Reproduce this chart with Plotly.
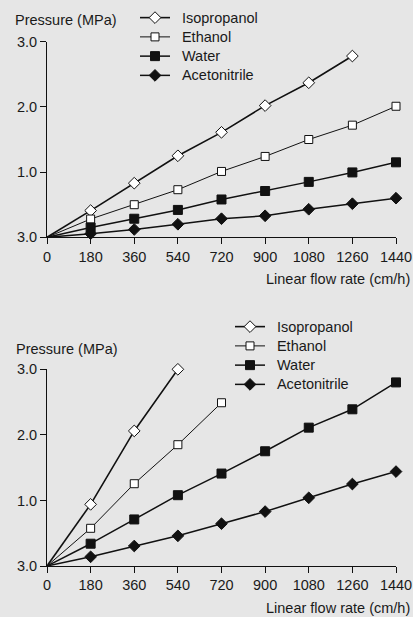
import plotly.graph_objects as go

flow = [180, 360, 540, 720, 900, 1080, 1260, 1440]
x_ticks = [0, 180, 360, 540, 720, 900, 1080, 1260, 1440]
y_tickvals = [0, 1, 2, 3]
y_ticktext = ["3.0", "1.0", "2.0", "3.0"]

# Top chart
top_iso = [0.41, 0.83, 1.25, 1.61, 2.02, 2.37, 2.78]
top_eth = [0.28, 0.50, 0.73, 1.01, 1.24, 1.50, 1.72, 2.01]
top_wat = [0.15, 0.285, 0.42, 0.58, 0.71, 0.85, 0.995, 1.15]
top_acn = [0.055, 0.12, 0.20, 0.285, 0.33, 0.43, 0.515, 0.60]

# Bottom chart
bot_iso = [0.94, 2.06, 3.0]
bot_eth = [0.575, 1.255, 1.85, 2.49]
bot_wat = [0.34, 0.71, 1.08, 1.41, 1.75, 2.11, 2.39, 2.80]
bot_acn = [0.14, 0.305, 0.46, 0.645, 0.83, 1.04, 1.25, 1.44]

names = ["Isopropanol", "Ethanol", "Water", "Acetonitrile"]
styles = [
    dict(symbol="diamond", color="white", size=9, lw=1.6),
    dict(symbol="square", color="white", size=8, lw=1.0),
    dict(symbol="square", color="#111111", size=9, lw=1.5),
    dict(symbol="diamond", color="#111111", size=9, lw=1.5),
]

INK = "#111111"
BG = "#e6e6e6"
FONT = "Liberation Sans, Arial, Helvetica, sans-serif"
FS = 14.5

fig = go.Figure()

def add_series(vals_list, xa, ya, legend):
    for name, vals, st in zip(names, vals_list, styles):
        xs = flow[:len(vals)]
        # segment from origin to first point
        fig.add_trace(go.Scatter(
            x=[0, xs[0]], y=[0, vals[0]], mode="lines",
            line=dict(color=INK, width=st["lw"]), showlegend=False,
            xaxis=xa, yaxis=ya, cliponaxis=False, hoverinfo="skip"))
        fig.add_trace(go.Scatter(
            x=xs, y=vals, mode="lines+markers",
            name='\u00a0\u00a0<span style="font-size:%spx">%s</span>' % (FS, name),
            line=dict(color=INK, width=st["lw"]),
            marker=dict(symbol=st["symbol"], size=st["size"], color=st["color"],
                        line=dict(color=INK, width=1)),
            xaxis=xa, yaxis=ya, legend=legend, cliponaxis=False))

add_series([top_iso, top_eth, top_wat, top_acn], "x", "y", "legend")
add_series([bot_iso, bot_eth, bot_wat, bot_acn], "x2", "y2", "legend2")

H = 617.0
def py(px):
    return 1 - px / H

axis_common = dict(
    showline=True, linecolor=INK, linewidth=1, ticks="outside", ticklen=6,
    tickcolor=INK, tickwidth=1, showgrid=False, zeroline=False,
    tickfont=dict(size=FS, color="#1a1a1a", family=FONT),
)

fig.update_layout(
    width=413, height=617,
    margin=dict(l=47, r=17, t=0, b=0, autoexpand=False),
    paper_bgcolor=BG, plot_bgcolor=BG,
    font=dict(family=FONT, size=FS, color="#1a1a1a"),
    xaxis=dict(domain=[0, 1], range=[0, 1440], tickvals=x_ticks, anchor="y", **axis_common),
    yaxis=dict(domain=[py(237.3), py(41.7)], range=[0, 3], tickvals=y_tickvals,
               ticktext=y_ticktext, anchor="x", **axis_common),
    xaxis2=dict(domain=[0, 1], range=[0, 1440], tickvals=x_ticks, anchor="y2", **axis_common),
    yaxis2=dict(domain=[py(566), py(369.3)], range=[0, 3], tickvals=y_tickvals,
                ticktext=y_ticktext, anchor="x2", **axis_common),
    legend=dict(x=(135 - 47) / 349, y=py(3), xanchor="left", yanchor="top",
                bgcolor="rgba(0,0,0,0)", font=dict(size=12.5), tracegroupgap=0),
    legend2=dict(x=(230 - 47) / 349, y=py(312), xanchor="left", yanchor="top",
                 bgcolor="rgba(0,0,0,0)", font=dict(size=12.5), tracegroupgap=0),
    showlegend=True,
    annotations=[
        dict(text="Pressure (MPa)", x=(13 - 47) / 349, y=py(20), xref="paper", yref="paper",
             xanchor="left", yanchor="middle", showarrow=False, font=dict(size=FS)),
        dict(text="Pressure (MPa)", x=(14 - 47) / 349, y=py(349), xref="paper", yref="paper",
             xanchor="left", yanchor="middle", showarrow=False, font=dict(size=FS)),
        dict(text="Linear flow rate (cm/h)", x=(411.5 - 47) / 349, y=py(279), xref="paper",
             yref="paper", xanchor="right", yanchor="middle", showarrow=False, font=dict(size=FS)),
        dict(text="Linear flow rate (cm/h)", x=(411.5 - 47) / 349, y=py(608), xref="paper",
             yref="paper", xanchor="right", yanchor="middle", showarrow=False, font=dict(size=FS)),
    ],
)

fig.write_html("out.html")
